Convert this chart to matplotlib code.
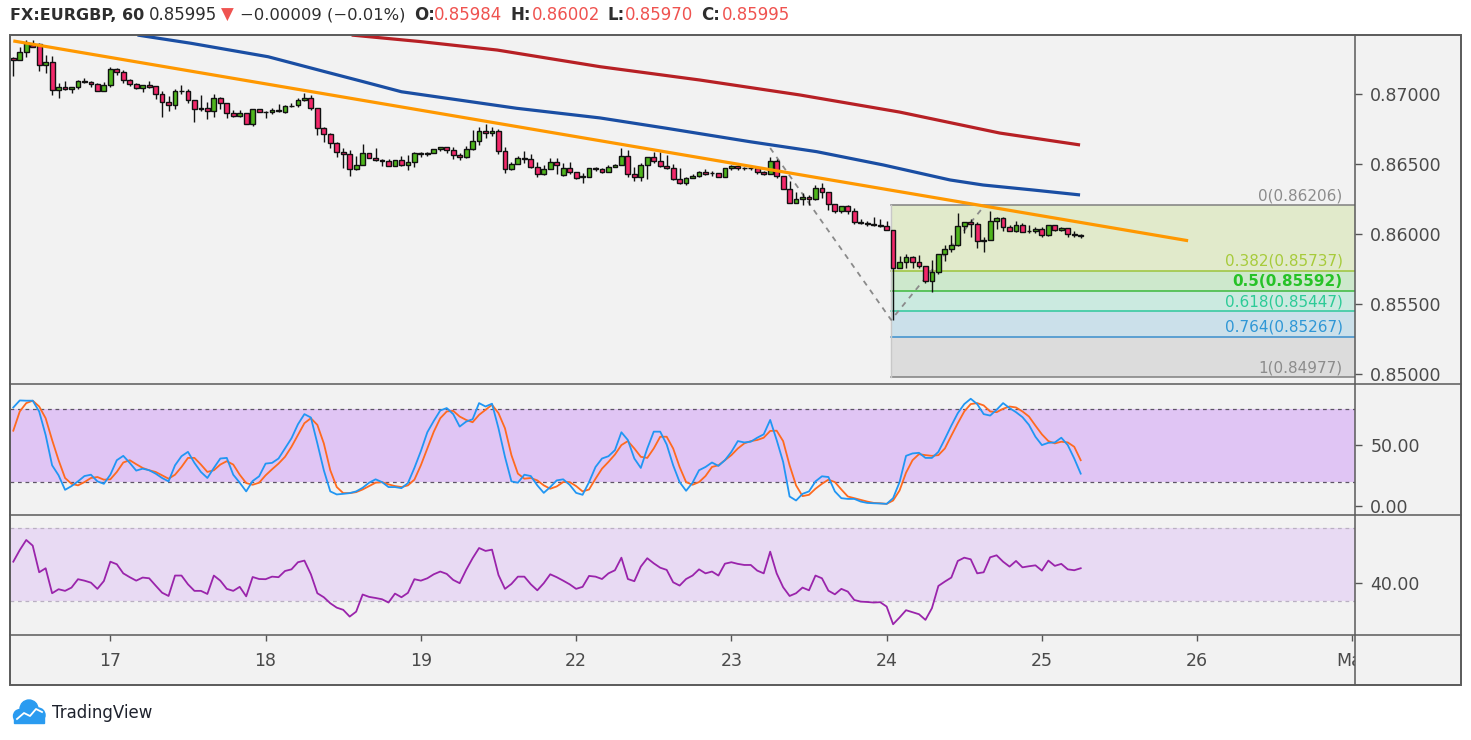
import matplotlib.pyplot as plt
from matplotlib.patches import Rectangle, Circle

# hourly EURGBP bars, index 0 = first bar on the left
opens = [0.87255, 0.87241, 0.87298, 0.87350, 0.87355, 0.87205, 0.87226, 0.87026, 0.87048, 0.87034,
         0.87048, 0.87093, 0.87084, 0.87069, 0.87019, 0.87062, 0.87176, 0.87155, 0.87100, 0.87069,
         0.87041, 0.87062, 0.87057, 0.86998, 0.86941, 0.86919, 0.87019, 0.87019, 0.86955, 0.86895,
         0.86900, 0.86876, 0.86969, 0.86934, 0.86862, 0.86843, 0.86862, 0.86784, 0.86891, 0.86874,
         0.86869, 0.86881, 0.86874, 0.86914, 0.86919, 0.86957, 0.86969, 0.86898, 0.86755, 0.86712,
         0.86648, 0.86588, 0.86569, 0.86462, 0.86491, 0.86576, 0.86541, 0.86526, 0.86521, 0.86484,
         0.86526, 0.86491, 0.86512, 0.86579, 0.86574, 0.86579, 0.86605, 0.86619, 0.86598, 0.86562,
         0.86548, 0.86605, 0.86666, 0.86738, 0.86719, 0.86734, 0.86591, 0.86466, 0.86498, 0.86541,
         0.86536, 0.86481, 0.86426, 0.86462, 0.86516, 0.86421, 0.86469, 0.86441, 0.86409, 0.86409,
         0.86469, 0.86462, 0.86445, 0.86476, 0.86493, 0.86557, 0.86426, 0.86405, 0.86493, 0.86548,
         0.86519, 0.86486, 0.86469, 0.86393, 0.86362, 0.86398, 0.86414, 0.86445, 0.86434, 0.86434,
         0.86405, 0.86469, 0.86486, 0.86471, 0.86469, 0.86469, 0.86443, 0.86429, 0.86524, 0.86414,
         0.86319, 0.86224, 0.86248, 0.86266, 0.86248, 0.86326, 0.86302, 0.86212, 0.86166, 0.86200,
         0.86166, 0.86086, 0.86076, 0.86069, 0.86059, 0.86059, 0.86026, 0.85759, 0.85798, 0.85834,
         0.85802, 0.85774, 0.85666, 0.85731, 0.85855, 0.85891, 0.85919, 0.86057, 0.86086, 0.86069,
         0.85950, 0.85955, 0.86093, 0.86112, 0.86052, 0.86021, 0.86062, 0.86021, 0.86019, 0.86036,
         0.85993, 0.86062, 0.86029, 0.86045, 0.85998, 0.85984]
highs = [0.87262, 0.87338, 0.87386, 0.87386, 0.87364, 0.87279, 0.87271, 0.87076, 0.87093, 0.87052,
         0.87100, 0.87112, 0.87093, 0.87079, 0.87084, 0.87191, 0.87184, 0.87169, 0.87107, 0.87076,
         0.87062, 0.87093, 0.87057, 0.87021, 0.86986, 0.87034, 0.87064, 0.87034, 0.86955, 0.86991,
         0.86945, 0.87000, 0.86981, 0.86934, 0.86886, 0.86886, 0.86864, 0.86891, 0.86893, 0.86881,
         0.86902, 0.86929, 0.86921, 0.86934, 0.86969, 0.87005, 0.86993, 0.86898, 0.86766, 0.86719,
         0.86659, 0.86612, 0.86600, 0.86557, 0.86643, 0.86576, 0.86612, 0.86538, 0.86534, 0.86526,
         0.86557, 0.86564, 0.86586, 0.86588, 0.86588, 0.86605, 0.86619, 0.86619, 0.86619, 0.86581,
         0.86629, 0.86743, 0.86762, 0.86786, 0.86762, 0.86748, 0.86624, 0.86514, 0.86557, 0.86591,
         0.86569, 0.86516, 0.86493, 0.86541, 0.86541, 0.86504, 0.86512, 0.86441, 0.86438, 0.86469,
         0.86476, 0.86469, 0.86493, 0.86500, 0.86612, 0.86600, 0.86476, 0.86509, 0.86552, 0.86588,
         0.86588, 0.86564, 0.86500, 0.86469, 0.86405, 0.86426, 0.86452, 0.86462, 0.86452, 0.86434,
         0.86469, 0.86493, 0.86493, 0.86481, 0.86481, 0.86481, 0.86450, 0.86552, 0.86534, 0.86414,
         0.86381, 0.86302, 0.86291, 0.86279, 0.86350, 0.86366, 0.86302, 0.86212, 0.86200, 0.86207,
         0.86184, 0.86107, 0.86093, 0.86119, 0.86107, 0.86093, 0.86026, 0.85843, 0.85857, 0.85843,
         0.85850, 0.85774, 0.85814, 0.85855, 0.85921, 0.85993, 0.86152, 0.86086, 0.86105, 0.86086,
         0.85981, 0.86166, 0.86119, 0.86124, 0.86064, 0.86095, 0.86079, 0.86064, 0.86048, 0.86048,
         0.86066, 0.86062, 0.86050, 0.86045, 0.86019, 0.86002]
lows = [0.87131, 0.87241, 0.87266, 0.87336, 0.87166, 0.87148, 0.86993, 0.86974, 0.87029, 0.87009,
        0.87036, 0.87076, 0.87052, 0.87019, 0.87019, 0.87052, 0.87136, 0.87076, 0.87057, 0.87034,
        0.87016, 0.87041, 0.86964, 0.86838, 0.86881, 0.86891, 0.86998, 0.86934, 0.86802, 0.86881,
        0.86824, 0.86838, 0.86895, 0.86831, 0.86834, 0.86834, 0.86784, 0.86774, 0.86871, 0.86826,
        0.86857, 0.86874, 0.86866, 0.86909, 0.86909, 0.86952, 0.86886, 0.86707, 0.86659, 0.86616,
        0.86552, 0.86474, 0.86416, 0.86455, 0.86491, 0.86541, 0.86521, 0.86486, 0.86484, 0.86484,
        0.86486, 0.86455, 0.86481, 0.86552, 0.86559, 0.86579, 0.86591, 0.86581, 0.86538, 0.86526,
        0.86543, 0.86600, 0.86634, 0.86686, 0.86702, 0.86569, 0.86434, 0.86457, 0.86498, 0.86504,
        0.86474, 0.86409, 0.86421, 0.86462, 0.86426, 0.86414, 0.86426, 0.86391, 0.86362, 0.86409,
        0.86450, 0.86434, 0.86445, 0.86476, 0.86493, 0.86409, 0.86381, 0.86381, 0.86391, 0.86504,
        0.86481, 0.86464, 0.86386, 0.86357, 0.86350, 0.86398, 0.86409, 0.86421, 0.86416, 0.86405,
        0.86405, 0.86457, 0.86457, 0.86457, 0.86457, 0.86426, 0.86421, 0.86429, 0.86398, 0.86319,
        0.86219, 0.86224, 0.86207, 0.86207, 0.86243, 0.86255, 0.86171, 0.86152, 0.86152, 0.86143,
        0.86069, 0.86069, 0.86059, 0.86057, 0.86052, 0.86026, 0.85386, 0.85759, 0.85759, 0.85759,
        0.85759, 0.85648, 0.85588, 0.85714, 0.85809, 0.85874, 0.85914, 0.86005, 0.85981, 0.85898,
        0.85869, 0.85955, 0.86034, 0.86024, 0.86021, 0.86014, 0.86014, 0.86005, 0.86009, 0.85981,
        0.85986, 0.86024, 0.86021, 0.85976, 0.85981, 0.85970]
closes = [0.87241, 0.87298, 0.87362, 0.87338, 0.87205, 0.87226, 0.87026, 0.87048, 0.87034, 0.87048,
          0.87093, 0.87086, 0.87069, 0.87019, 0.87062, 0.87176, 0.87155, 0.87100, 0.87069, 0.87041,
          0.87062, 0.87052, 0.86998, 0.86941, 0.86919, 0.87019, 0.87019, 0.86955, 0.86895, 0.86900,
          0.86876, 0.86969, 0.86934, 0.86862, 0.86843, 0.86862, 0.86784, 0.86891, 0.86871, 0.86871,
          0.86886, 0.86881, 0.86914, 0.86916, 0.86957, 0.86969, 0.86898, 0.86755, 0.86712, 0.86648,
          0.86588, 0.86569, 0.86462, 0.86491, 0.86576, 0.86541, 0.86526, 0.86521, 0.86484, 0.86526,
          0.86491, 0.86512, 0.86579, 0.86574, 0.86579, 0.86605, 0.86619, 0.86598, 0.86562, 0.86548,
          0.86605, 0.86666, 0.86738, 0.86719, 0.86734, 0.86591, 0.86466, 0.86498, 0.86541, 0.86536,
          0.86481, 0.86426, 0.86462, 0.86516, 0.86493, 0.86469, 0.86441, 0.86402, 0.86409, 0.86469,
          0.86462, 0.86445, 0.86476, 0.86493, 0.86557, 0.86426, 0.86405, 0.86493, 0.86548, 0.86519,
          0.86486, 0.86469, 0.86393, 0.86362, 0.86398, 0.86414, 0.86445, 0.86426, 0.86434, 0.86405,
          0.86469, 0.86486, 0.86471, 0.86469, 0.86469, 0.86443, 0.86429, 0.86524, 0.86414, 0.86319,
          0.86224, 0.86248, 0.86266, 0.86248, 0.86326, 0.86302, 0.86212, 0.86166, 0.86200, 0.86166,
          0.86086, 0.86076, 0.86074, 0.86064, 0.86059, 0.86026, 0.85759, 0.85798, 0.85834, 0.85802,
          0.85774, 0.85666, 0.85731, 0.85855, 0.85891, 0.85919, 0.86057, 0.86086, 0.86069, 0.85950,
          0.85955, 0.86093, 0.86112, 0.86052, 0.86021, 0.86062, 0.86014, 0.86021, 0.86036, 0.85993,
          0.86062, 0.86029, 0.86045, 0.86000, 0.85995, 0.85995]

# moving averages, read at a few bar positions
ma_blue_idx = [19.2, 27.5, 39.4, 48.2, 54.1, 60.0, 68.9, 77.8, 90.7, 101.0, 113.9, 124.2, 134.5, 144.8, 149.9, 157.7, 164.9]
ma_blue = [0.87421, 0.87362, 0.87266, 0.87159, 0.87088, 0.87016, 0.86957, 0.86898, 0.86829, 0.86755,
           0.86659, 0.86588, 0.86493, 0.86386, 0.86350, 0.86314, 0.86279]
ma_red_idx = [52.3, 63.0, 74.8, 90.7, 106.1, 121.6, 137.0, 152.5, 164.9]
ma_red = [0.87421, 0.87374, 0.87314, 0.87195, 0.87100, 0.86993, 0.86871, 0.86721, 0.86636]

trend_idx = [0, 181.6]
trend_px = [0.87379, 0.85952]

fib_ratios = ['0', '0.382', '0.5', '0.618', '0.764', '1']
fib_prices = [0.86206, 0.85737, 0.85592, 0.85447, 0.85267, 0.84977]
fib_start = 135.7

swing_idx = [117, 135.7, 150.2]
swing_px = [0.86614, 0.85386, 0.86207]

stoch_k = [81.4, 87.2, 87.0, 87.0, 78.1, 58.6, 33.6, 25.3, 13.3, 16.4,
           20.3, 24.7, 25.8, 20.3, 18.3, 25.8, 37.8, 41.4, 35.6, 29.2,
           30.8, 29.5, 26.7, 23.1, 20.3, 33.6, 41.1, 44.7, 35.6, 28.1,
           23.1, 31.4, 39.2, 39.7, 25.8, 19.2, 12.0, 20.6, 24.5, 35.0,
           35.6, 39.2, 47.5, 55.9, 67.5, 75.9, 73.1, 51.7, 29.5, 12.0,
           9.5, 10.0, 10.6, 12.0, 15.0, 19.2, 22.0, 19.7, 15.6, 15.6,
           14.7, 18.9, 31.4, 45.3, 60.9, 70.3, 78.9, 80.9, 75.9, 65.6,
           69.7, 71.7, 85.0, 82.2, 84.5, 64.2, 40.6, 20.3, 19.2, 25.8,
           24.7, 17.0, 10.8, 15.6, 21.1, 22.0, 17.5, 10.8, 9.2, 19.7,
           32.2, 39.2, 41.1, 46.1, 60.9, 54.5, 39.2, 31.4, 47.5, 61.4,
           61.4, 50.8, 33.6, 19.7, 12.5, 19.2, 29.5, 32.2, 35.9, 33.1,
           37.8, 44.7, 53.6, 52.5, 53.1, 56.4, 59.2, 71.1, 54.5, 36.4,
           7.8, 4.5, 10.0, 12.0, 20.3, 24.5, 23.9, 12.0, 6.4, 5.8,
           5.8, 3.6, 2.5, 2.2, 2.0, 1.7, 6.4, 19.7, 41.4, 43.4,
           43.9, 39.7, 39.7, 44.7, 55.3, 66.4, 76.7, 84.2, 88.6, 84.2,
           75.9, 74.7, 79.5, 85.0, 80.9, 77.5, 73.4, 67.0, 57.2, 50.3,
           52.2, 52.5, 56.4, 50.3, 39.2, 26.7]
stoch_d = [62.2, 78.1, 85.0, 87.0, 82.2, 72.5, 54.5, 37.8, 23.1, 18.3,
           17.0, 19.7, 23.1, 23.9, 21.7, 22.0, 28.1, 35.9, 37.8, 34.5,
           31.4, 29.5, 28.1, 25.3, 22.5, 25.8, 32.2, 39.7, 39.7, 34.2,
           28.1, 29.5, 34.2, 37.0, 34.2, 25.8, 18.9, 17.5, 19.2, 25.3,
           30.3, 35.0, 40.6, 48.9, 58.6, 68.4, 72.5, 67.0, 51.7, 29.5,
           15.6, 10.6, 10.6, 11.4, 13.6, 16.4, 19.2, 19.7, 17.8, 16.4,
           15.6, 17.0, 21.7, 33.6, 47.5, 61.4, 72.5, 78.1, 78.6, 73.9,
           71.1, 69.2, 75.3, 79.5, 83.6, 76.7, 64.2, 42.0, 26.7, 22.5,
           23.1, 21.1, 17.0, 14.2, 16.1, 19.7, 19.7, 16.4, 12.0, 13.6,
           22.5, 30.8, 36.4, 42.5, 50.3, 53.6, 47.5, 40.6, 39.7, 47.5,
           57.2, 57.2, 47.5, 32.2, 19.7, 17.5, 19.7, 24.7, 32.2, 33.6,
           37.8, 42.0, 47.5, 51.7, 53.6, 54.5, 56.4, 62.0, 62.2, 53.6,
           33.6, 17.0, 8.1, 9.2, 14.2, 18.3, 21.7, 19.7, 13.6, 7.8,
           6.4, 5.0, 3.6, 2.5, 2.2, 1.7, 4.5, 12.8, 27.5, 37.8,
           42.8, 42.0, 41.4, 42.0, 47.5, 58.1, 68.4, 78.1, 84.2, 85.0,
           83.1, 78.1, 77.5, 80.3, 82.2, 81.4, 78.1, 73.9, 66.4, 59.2,
           53.6, 51.7, 53.1, 52.5, 48.9, 37.8]
rsi = [51.7, 58.1, 63.6, 60.5, 45.9, 48.1, 34.4, 36.6, 35.7, 37.5,
       42.1, 41.3, 40.2, 36.8, 41.1, 51.7, 50.3, 45.3, 43.2, 41.3,
       43.0, 42.6, 38.6, 34.7, 32.9, 44.1, 44.1, 39.3, 35.7, 35.7,
       34.0, 44.1, 41.3, 36.8, 35.7, 37.9, 32.7, 43.3, 42.2, 42.1,
       43.5, 43.2, 46.6, 47.5, 51.4, 52.3, 44.8, 34.4, 32.2, 28.9,
       26.5, 25.3, 21.6, 24.3, 33.7, 32.4, 31.8, 31.1, 29.3, 34.2,
       32.2, 34.6, 42.1, 41.3, 42.6, 44.8, 46.3, 45.0, 41.7, 39.9,
       47.2, 53.6, 59.2, 57.6, 58.3, 44.4, 36.8, 39.5, 43.5, 43.5,
       39.3, 36.0, 39.9, 44.8, 43.2, 41.3, 39.3, 36.8, 37.9, 43.9,
       43.5, 42.2, 45.3, 47.0, 53.9, 42.2, 41.0, 49.0, 53.6, 50.8,
       48.4, 47.2, 40.4, 38.6, 42.2, 44.1, 47.5, 45.3, 46.3, 44.1,
       50.6, 51.4, 50.5, 49.9, 49.9, 46.8, 45.3, 57.2, 45.3, 37.7,
       32.9, 34.4, 37.5, 36.0, 44.1, 42.6, 35.8, 33.8, 36.8, 35.3,
       30.7, 29.8, 29.6, 29.3, 29.5, 27.1, 17.4, 21.1, 25.1, 24.0,
       22.9, 19.8, 26.2, 38.4, 40.8, 43.0, 52.1, 53.9, 53.0, 45.3,
       45.9, 54.1, 55.2, 51.7, 49.0, 52.1, 48.6, 49.2, 49.7, 46.8,
       52.3, 49.4, 50.5, 47.5, 47.0, 48.1]

day_pos = [15, 39, 63, 87, 111, 135, 159, 183, 207]
day_labels = ['17', '18', '19', '22', '23', '24', '25', '26', 'Mar']
price_ticks = [0.85, 0.855, 0.86, 0.865, 0.87]

W, H = 1471, 740
XMIN, XMAX = -0.51, 207.4


def box(x0, y0, x1, y1):
    return [x0 / W, 1 - y1 / H, (x1 - x0) / W, (y1 - y0) / H]


fig = plt.figure(figsize=(W / 100, H / 100), dpi=100)

bg = fig.add_axes([0, 0, 1, 1], zorder=0)
bg.set_xlim(0, W)
bg.set_ylim(H, 0)
bg.axis('off')
bg.add_patch(Rectangle((10, 35), 1451, 650, facecolor='#f2f2f2', edgecolor='none'))

# ---- main price pane
ax = fig.add_axes(box(10, 35, 1355, 384), zorder=1)
ax.set_facecolor('none')
ax.set_xlim(XMIN, XMAX)
ax.set_ylim(0.849286, 0.874214)

fill_cols = ['#e1eacb', '#cde8cc', '#cbeae0', '#cbe0ea', '#dcdcdc']
line_cols = ['#808080', '#9cc43c', '#3cb93c', '#2ec89b', '#3b8fcc', '#808080']
text_cols = ['#8c8c8c', '#a7cb3b', '#27c227', '#2ccb97', '#2f97d6', '#8c8c8c']
for k in range(5):
    ax.fill_between([fib_start, XMAX], fib_prices[k + 1], fib_prices[k],
                    color=fill_cols[k], lw=0, zorder=0.5)
for k in range(6):
    ax.plot([fib_start, XMAX], [fib_prices[k]] * 2, color=line_cols[k], lw=1.1, zorder=0.6)
    ax.annotate(f'{fib_ratios[k]}({fib_prices[k]:.5f})', (205.5, fib_prices[k]),
                xytext=(0, 1.5), textcoords='offset points', ha='right', va='bottom',
                fontsize=11, color=text_cols[k],
                fontweight='bold' if fib_ratios[k] == '0.5' else 'normal', zorder=5)
ax.plot([fib_start, fib_start], [fib_prices[-1], fib_prices[0]], color='#c8c8c8', lw=1, zorder=0.6)

ax.plot(swing_idx, swing_px, color='#8a8a8a', lw=1.3, dashes=(3, 3), zorder=2)

ax.plot(ma_red_idx, ma_red, color='#b72025', lw=2.3, zorder=3, solid_capstyle='butt')
ax.plot(ma_blue_idx, ma_blue, color='#1a4ea3', lw=2.3, zorder=3, solid_capstyle='butt')

idx = list(range(len(closes)))
ax.vlines(idx, lows, highs, color='#111111', lw=1, zorder=3.5)
bottoms = [min(o, c) for o, c in zip(opens, closes)]
heights = [max(abs(c - o), 0.000025) for o, c in zip(opens, closes)]
colors = ['#4fb51d' if c >= o else '#f2286a' for o, c in zip(opens, closes)]
ax.bar(idx, heights, bottom=bottoms, width=0.74, color=colors,
       edgecolor='#111111', linewidth=1.0, zorder=4)

ax.plot(trend_idx, trend_px, color='#ff9800', lw=2.3, zorder=4.5, solid_capstyle='butt')

ax.yaxis.tick_right()
ax.set_yticks(price_ticks)
ax.set_yticklabels([f'{p:.5f}' for p in price_ticks])
ax.set_xticks([])
ax.tick_params(axis='y', length=5, width=1, color='#555555', pad=6,
               labelsize=12.5, labelcolor='#4a4a4a')
for s in ax.spines.values():
    s.set_visible(False)

# ---- stochastic pane
ax2 = fig.add_axes(box(10, 384, 1355, 515), zorder=1)
ax2.set_facecolor('none')
ax2.set_xlim(XMIN, XMAX)
ax2.set_ylim(-7.5, 100.8)
ax2.axhspan(20, 80, color='#e0c5f4', lw=0, zorder=0.5)
for lvl in (20, 80):
    ax2.axhline(lvl, color='#5e5566', lw=0.9, dashes=(3, 3), zorder=1)
ax2.plot(idx, stoch_d, color='#ff6a1f', lw=1.3, zorder=2)
ax2.plot(idx, stoch_k, color='#2196f3', lw=1.3, zorder=3)
ax2.yaxis.tick_right()
ax2.set_yticks([0, 50])
ax2.set_yticklabels(['0.00', '50.00'])
ax2.set_xticks([])
ax2.tick_params(axis='y', length=5, width=1, color='#555555', pad=6,
                labelsize=12.5, labelcolor='#4a4a4a')
for s in ax2.spines.values():
    s.set_visible(False)

# ---- RSI pane
ax3 = fig.add_axes(box(10, 515, 1355, 635), zorder=1)
ax3.set_facecolor('none')
ax3.set_xlim(XMIN, XMAX)
ax3.set_ylim(11.5, 77.3)
ax3.axhspan(30, 70, color='#e8daf3', lw=0, zorder=0.5)
for lvl in (30, 70):
    ax3.axhline(lvl, color='#b9b0c2', lw=0.9, dashes=(3, 3), zorder=1)
ax3.plot(idx, rsi, color='#9a24ab', lw=1.3, zorder=2)
ax3.yaxis.tick_right()
ax3.set_yticks([40])
ax3.set_yticklabels(['40.00'])
ax3.set_xticks([])
ax3.tick_params(axis='y', length=5, width=1, color='#555555', pad=6,
                labelsize=12.5, labelcolor='#4a4a4a')
for s in ax3.spines.values():
    s.set_visible(False)

# ---- time scale strip
axt = fig.add_axes(box(10, 635, 1355, 685), zorder=1)
axt.set_facecolor('none')
axt.set_xlim(XMIN, XMAX)
axt.set_ylim(0, 1)
axt.axis('off')
axt.vlines(day_pos, 0.89, 1.0, color='#555555', lw=1)
for p, lab in zip(day_pos, day_labels):
    axt.text(p, 0.48, lab, ha='center', va='center', fontsize=12.5,
             color='#4a4a4a', clip_on=True)

# ---- frame, header and logo
top = fig.add_axes([0, 0, 1, 1], zorder=10)
top.set_xlim(0, W)
top.set_ylim(H, 0)
top.axis('off')
top.add_patch(Rectangle((10, 35), 1451, 650, facecolor='none', edgecolor='#5a5a5a', lw=1.4))
top.plot([1355, 1355], [35, 685], color='#5a5a5a', lw=1.1)
for yy in (384, 515, 635):
    top.plot([10, 1461], [yy, yy], color='#5a5a5a', lw=1.1)

hy = 15
dark = '#2e2e2e'
red = '#ef5350'
top.text(10, hy, 'FX:EURGBP, 60', fontsize=11.5, fontweight='bold', color=dark, va='center')
top.text(149, hy, '0.85995', fontsize=12, color=dark, va='center')
top.text(221, hy, '▼', fontsize=12, color=red, va='center')
top.text(240, hy, '−0.00009 (−0.01%)', fontsize=11.8, color=dark, va='center')
header_vals = [('O:', 414, 434, '0.85984'), ('H:', 511, 532, '0.86002'),
               ('L:', 608, 625, '0.85970'), ('C:', 701, 722, '0.85995')]
for lab, x0, x1, val in header_vals:
    top.text(x0, hy, lab, fontsize=12, fontweight='bold', color=dark, va='center')
    top.text(x1, hy, val, fontsize=12, color=red, va='center')

# TradingView logo
for cx, cy, r in [(20, 716, 6.5), (29, 709, 9), (38, 715, 7)]:
    top.add_patch(Circle((cx, cy), r, color='#2a9bf0', zorder=11))
top.add_patch(Rectangle((14, 714), 30, 8.5, color='#2a9bf0', zorder=11))
top.plot([17, 24, 30, 36, 42], [719, 713, 716, 709, 712], color='white', lw=1.3, zorder=12)
top.text(52, 713, 'TradingView', fontsize=12, color='#1e222d', va='center')

fig.savefig('out.png', dpi=100, facecolor='white')
